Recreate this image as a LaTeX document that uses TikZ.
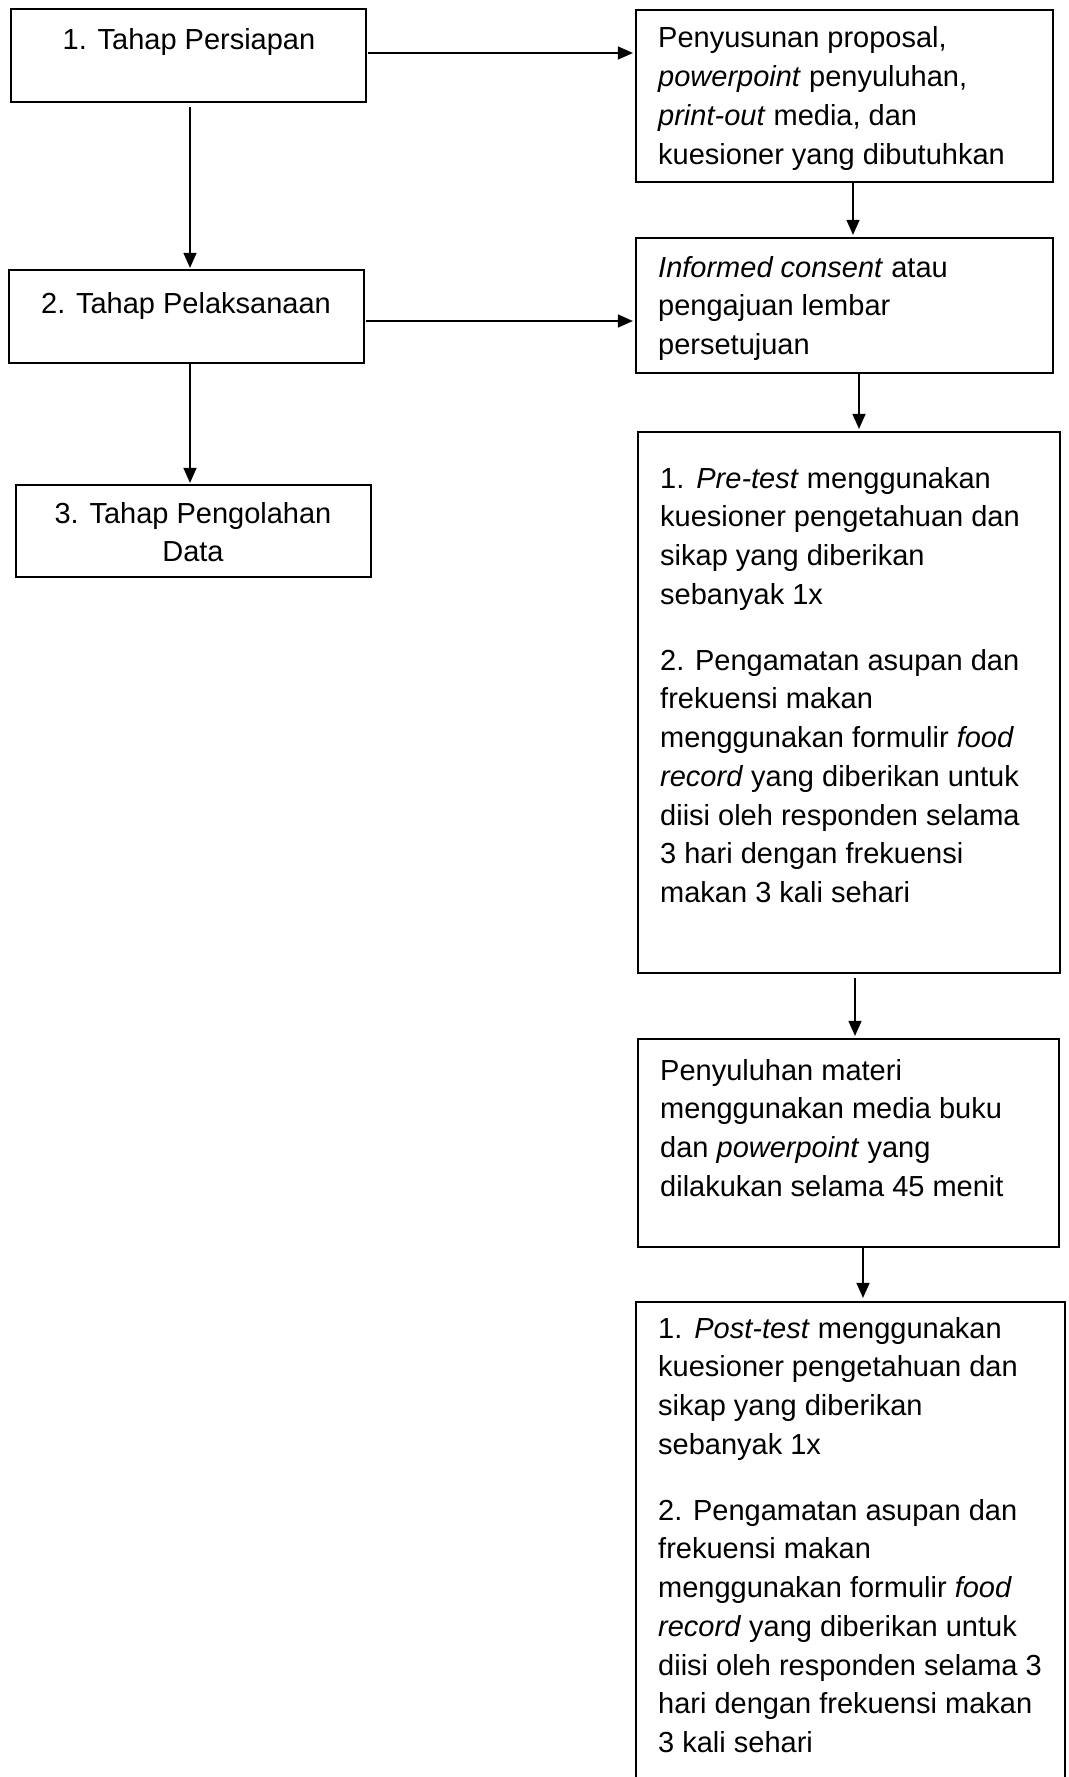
\documentclass[tikz,border=0pt]{standalone}
\usepackage{fontspec}
\setmainfont{Liberation Sans}
\usetikzlibrary{arrows.meta}
\begin{document}
\begin{tikzpicture}[x=1pt,y=-1pt,
  box/.style={draw, line width=2.2pt, rectangle, inner sep=0pt},
  arr/.style={line width=1.3pt, -{Triangle[length=15pt,width=13pt]}},
  txt/.style={inner sep=0pt, font=\fontsize{29}{38.7}\selectfont},
]
\useasboundingbox[fill=white] (0,0) rectangle (1068,1777);

% boxes
\node[box, minimum width=355pt, minimum height=93pt] (b1) at (188.5,55.5) {};
\node[box, minimum width=355pt, minimum height=93pt] (b2) at (186.5,316.5) {};
\node[box, minimum width=355pt, minimum height=92pt] (b3) at (193.5,531) {};
\node[box, minimum width=417pt, minimum height=172pt] (bA) at (844.5,96) {};
\node[box, minimum width=417pt, minimum height=135pt] (bB) at (844.5,305.5) {};
\node[box, minimum width=422pt, minimum height=541pt] (bC) at (849,702.5) {};
\node[box, minimum width=421pt, minimum height=208pt] (bD) at (848.5,1143) {};
\node[box, minimum width=429pt, minimum height=520pt] (bE) at (850.5,1562) {};

% texts
\node[txt, anchor=base] (t1) at (189,50) {1. Tahap Persiapan};
\node[txt, anchor=base] (t2) at (186,313) {2. Tahap Pelaksanaan};
\node[txt, anchor=base] (t3) at (193,523) {\vtop{\halign{\hfil#\hfil\cr 3. Tahap Pengolahan\cr Data\cr}}};

\node[txt, anchor=base west] (tA) at (658,48) {\vtop{%
  \hbox{Penyusunan proposal,}%
  \hbox{\textit{powerpoint} penyuluhan,}%
  \hbox{\textit{print-out} media, dan}%
  \hbox{kuesioner yang dibutuhkan}}};

\node[txt, anchor=base west] (tB) at (658,277) {\vtop{%
  \hbox{\textit{Informed consent} atau}%
  \hbox{pengajuan lembar}%
  \hbox{persetujuan}}};

\node[txt, anchor=base west] (tC) at (660,488) {\vtop{%
  \hbox{1.\hspace{12pt}\textit{Pre-test} menggunakan}%
  \hbox{kuesioner pengetahuan dan}%
  \hbox{sikap yang diberikan}%
  \hbox{sebanyak 1x}%
  \vskip 27.4pt
  \hbox{2. Pengamatan asupan dan}%
  \hbox{frekuensi makan}%
  \hbox{menggunakan formulir \textit{food}}%
  \hbox{\textit{record} yang diberikan untuk}%
  \hbox{diisi oleh responden selama}%
  \hbox{3 hari dengan frekuensi}%
  \hbox{makan 3 kali sehari}}};

\node[txt, anchor=base west] (tD) at (660,1080) {\vtop{%
  \hbox{Penyuluhan materi}%
  \hbox{menggunakan media buku}%
  \hbox{dan \textit{powerpoint} yang}%
  \hbox{dilakukan selama 45 menit}}};

\node[txt, anchor=base west] (tE) at (658,1338) {\vtop{%
  \hbox{1.\hspace{12pt}\textit{Post-test} menggunakan}%
  \hbox{kuesioner pengetahuan dan}%
  \hbox{sikap yang diberikan}%
  \hbox{sebanyak 1x}%
  \vskip 27.4pt
  \hbox{2. Pengamatan asupan dan}%
  \hbox{frekuensi makan}%
  \hbox{menggunakan formulir \textit{food}}%
  \hbox{\textit{record} yang diberikan untuk}%
  \hbox{diisi oleh responden selama 3}%
  \hbox{hari dengan frekuensi makan}%
  \hbox{3 kali sehari}}};

% helper coordinates
\coordinate (ya) at (0,53);
\coordinate (yb) at (0,321);
\coordinate (xl) at (190,0);
\coordinate (xAB) at (853,0);
\coordinate (xBC) at (859,0);
\coordinate (xCD) at (855,0);
\coordinate (xDE) at (863,0);

% connectors
\draw[arr, shorten <=1pt, shorten >=2pt] (b1.east |- ya) -- (bA.west |- ya);
\draw[arr, shorten <=1pt, shorten >=2pt] (b2.east |- yb) -- (bB.west |- yb);
\draw[arr, shorten <=4pt, shorten >=1pt] (b1.south -| xl) -- (b2.north -| xl);
\draw[arr, shorten >=1pt] (b2.south -| xl) -- (b3.north -| xl);
\draw[arr, shorten >=2pt] (bA.south -| xAB) -- (bB.north -| xAB);
\draw[arr, shorten >=2pt] (bB.south -| xBC) -- (bC.north -| xBC);
\draw[arr, shorten <=4pt, shorten >=2pt] (bC.south -| xCD) -- (bD.north -| xCD);
\draw[arr, shorten >=3pt] (bD.south -| xDE) -- (bE.north -| xDE);
\end{tikzpicture}
\end{document}
